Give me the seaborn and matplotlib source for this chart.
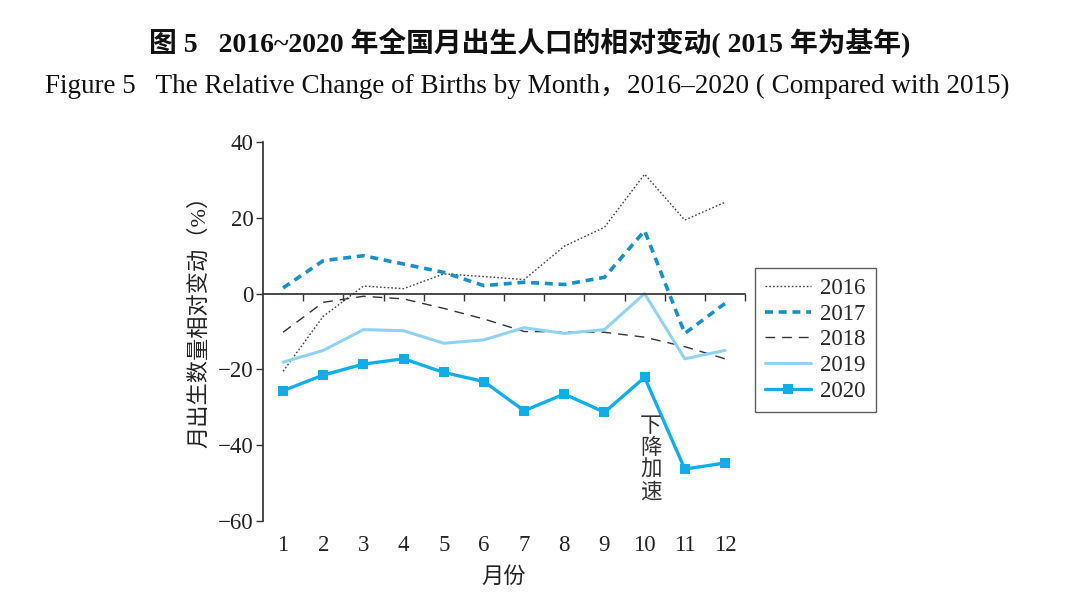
import numpy as np
import pandas as pd
import matplotlib
matplotlib.use("Agg")
import matplotlib.pyplot as plt
import seaborn as sns

# data (relative change vs 2015, %)
months = list(range(1, 13))
y2016 = [-20.5, -6.0, 2.0, 1.3, 5.2, 4.5, 3.7, 12.5, 17.5, 31.5, 19.4, 24.1]
y2017 = [1.5, 8.7, 10.0, 7.8, 5.6, 2.1, 3.0, 2.4, 4.3, 16.6, -10.5, -2.6]
y2018 = [-10.2, -2.3, -0.7, -1.4, -3.9, -6.7, -10.0, -10.1, -10.2, -11.5, -14.0, -17.2]
y2019 = [-18.1, -15.0, -9.5, -9.8, -13.1, -12.2, -9.0, -10.5, -9.5, 0.0, -17.2, -15.0]
y2020 = [-25.6, -21.5, -18.6, -17.2, -20.8, -23.2, -30.9, -26.5, -31.3, -22.1, -46.3, -44.7]
years = ["2016", "2017", "2018", "2019", "2020"]
yticks = [-60, -40, -20, 0, 20, 40]

df = pd.DataFrame({
    "month": months * 5,
    "value": y2016 + y2017 + y2018 + y2019 + y2020,
    "year": [y for y in years for _ in months],
})

sns.set_theme(style="ticks")
plt.rcParams['font.family'] = ['Liberation Serif', 'Noto Sans CJK SC']
plt.rcParams['axes.unicode_minus'] = True

fig = plt.figure(figsize=(10.7, 6.04), dpi=100)
ax = fig.add_axes([0.2458, 0.1374, 0.4505, 0.6275])

styles = {
    "2016": dict(color="#444444", linestyle=(0, (1.2, 1.5)), linewidth=1.0),
    "2017": dict(color="#1591c8", linestyle=(0, (2.2, 1.6)), linewidth=2.6),
    "2018": dict(color="#333333", linestyle=(0, (7, 5)), linewidth=1.0),
    "2019": dict(color="#8fd3f1", linestyle="-", linewidth=2.2),
    "2020": dict(color="#10aee9", linestyle="-", linewidth=2.4,
                 marker="s", markersize=6.5, markeredgewidth=0),
}
for yr in years:
    sub = df[df["year"] == yr]
    sns.lineplot(data=sub, x="month", y="value", ax=ax, label=yr, **styles[yr])

ax.set_xlim(0.5, 12.5)
ax.set_ylim(-60, 40)
ax.set_yticks(yticks)
ax.tick_params(axis="y", direction="out", length=5, width=1, color="#333333",
               labelsize=16.5, labelcolor="#222222", pad=2)

# x axis drawn at zero, ticks between months, labels at the bottom
for s in ["top", "right"]:
    ax.spines[s].set_visible(False)
ax.spines["bottom"].set_position(("data", 0))
ax.spines["bottom"].set_color("#333333")
ax.spines["left"].set_color("#333333")
ax.set_xticks([m + 0.5 for m in months])
ax.set_xticklabels([])
ax.tick_params(axis="x", direction="out", length=5, width=1, color="#333333")

sec = ax.secondary_xaxis(0)
sec.set_xticks(months)
sec.set_xticklabels([str(m) for m in months])
sec.tick_params(length=0, labelsize=16.5, labelcolor="#222222", pad=10)
sec.spines["bottom"].set_visible(False)
sec.set_xlabel("月份", fontsize=16, color="#222222", labelpad=8)

ax.set_xlabel("")
ax.set_ylabel("月出生数量相对变动（%）", fontsize=16, color="#222222")
ax.yaxis.set_label_coords(-0.11, 0.54)

ax.text(10.15, -32, "下\n降\n加\n速", ha="center", va="top", fontsize=15.5,
        color="#333333", linespacing=1.0, family=['Noto Sans CJK SC'])

leg = ax.legend(loc="upper left", bbox_to_anchor=(1.02, 0.668), borderaxespad=0,
                fontsize=16.5, frameon=True, fancybox=False, handlelength=2.0,
                handletextpad=0.4, labelspacing=0.2, borderpad=0.45)
leg.get_frame().set_edgecolor("#333333")
leg.get_frame().set_linewidth(1.0)

fig.text(0.495, 1 - 43 / 604, "图 5   2016~2020 年全国月出生人口的相对变动( 2015 年为基年)",
         ha="center", va="center", fontsize=20, fontweight="bold", color="#111111")
fig.text(0.493, 1 - 86 / 604,
         "Figure 5   The Relative Change of Births by Month，2016–2020 ( Compared with 2015)",
         ha="center", va="center", fontsize=19.5, color="#111111")

fig.savefig("out.png", dpi=100)
